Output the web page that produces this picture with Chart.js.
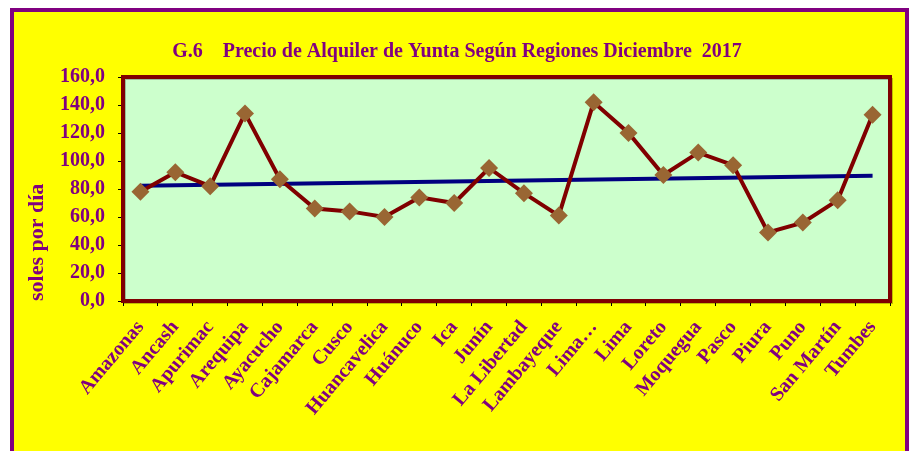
<!DOCTYPE html>
<html>
<head>
<meta charset="utf-8">
<script src="https://cdn.jsdelivr.net/npm/chart.js@4"></script>
<style>
  body { margin: 0; background: #fff; }
  #frame {
    position: absolute; left: 10px; top: 8px; width: 899px; height: 470px;
    box-sizing: border-box; border: 4px solid #800080; background: #ffff00;
  }
  #chart { position: absolute; left: 0; top: 0; }
</style>
</head>
<body>
<div id="frame"></div>
<canvas id="chart" width="914" height="451"></canvas>
<script>
// regiones
const regiones = [
  "Amazonas", "Ancash", "Apurimac", "Arequipa", "Ayacucho", "Cajamarca",
  "Cusco", "Huancavelica", "Huánuco", "Ica", "Junín", "La Libertad",
  "Lambayeque", "Lima…", "Lima", "Loreto", "Moquegua", "Pasco",
  "Piura", "Puno", "San Martín", "Tumbes"
];

// precio (soles por dia)
const precios = [78, 92, 82, 134, 87, 66, 64, 60, 74, 70, 95, 77, 61, 142, 120, 90, 106, 97, 49, 56, 72, 133];

// tendencia: valor inicial y final
const tendencia = [82.3, 89.4];

const purpura = "#800080";
const fuente = "'Liberation Serif', 'Times New Roman', serif";

const trendData = regiones.map(() => null);
trendData[0] = tendencia[0];
trendData[trendData.length - 1] = tendencia[1];

// fondo verde y borde del area de trazado
const areaFondo = {
  id: "areaFondo",
  beforeDraw(chart) {
    const { ctx, chartArea: a } = chart;
    ctx.save();
    ctx.fillStyle = "#ccffcc";
    ctx.fillRect(a.left, a.top, a.right - a.left, a.bottom - a.top);
    ctx.restore();
  },
  beforeDatasetsDraw(chart) {
    const { ctx, chartArea: a } = chart;
    ctx.save();
    ctx.strokeStyle = "rgba(0,0,0,0.25)";
    ctx.lineWidth = 2;
    ctx.strokeRect(a.left + 2, a.top + 2, a.right - a.left, a.bottom - a.top);
    ctx.strokeStyle = "#800000";
    ctx.lineWidth = 4;
    ctx.strokeRect(a.left, a.top, a.right - a.left, a.bottom - a.top);
    ctx.restore();
  }
};

const ctx = document.getElementById("chart");

new Chart(ctx, {
  type: "line",
  data: {
    labels: regiones,
    datasets: [
      {
        label: "Tendencia",
        data: trendData,
        spanGaps: true,
        borderColor: "#000080",
        borderWidth: 4,
        pointRadius: 0,
        order: 2
      },
      {
        label: "Precio",
        data: precios,
        borderColor: "#800000",
        borderWidth: 4,
        pointStyle: "rectRot",
        pointRadius: 9,
        pointBackgroundColor: "#996633",
        pointBorderColor: "#996633",
        pointBorderWidth: 0,
        order: 1
      }
    ]
  },
  options: {
    responsive: false,
    animation: false,
    devicePixelRatio: 1,
    layout: { padding: { left: 24, right: 24, top: 0, bottom: 0 } },
    plugins: {
      legend: { display: false },
      tooltip: { enabled: false },
      title: {
        display: true,
        text: "G.6    Precio de Alquiler de Yunta Según Regiones Diciembre  2017",
        color: purpura,
        font: { family: fuente, size: 20, weight: "bold" },
        padding: { top: 40, bottom: 13 }
      }
    },
    scales: {
      x: {
        offset: true,
        grid: { offset: true, drawOnChartArea: false, color: "#000", tickLength: 5 },
        border: { color: "#000" },
        ticks: {
          color: purpura,
          font: { family: fuente, size: 20, weight: "bold" },
          minRotation: 50,
          maxRotation: 50,
          autoSkip: false,
          padding: 10
        },
        afterFit(scale) { scale.height = 150; }
      },
      y: {
        min: 0,
        max: 160,
        ticks: {
          stepSize: 20,
          color: purpura,
          font: { family: fuente, size: 20, weight: "bold" },
          padding: 13,
          callback: (v) => v.toFixed(1).replace(".", ",")
        },
        grid: { drawOnChartArea: false, color: "#000", tickLength: 5 },
        border: { color: "#000" },
        title: {
          display: true,
          text: "soles por día",
          align: "start",
          color: purpura,
          font: { family: fuente, size: 22, weight: "bold" },
          padding: 0
        },
        afterFit(scale) { scale.width = 99; }
      }
    }
  },
  plugins: [areaFondo]
});
</script>
</body>
</html>
